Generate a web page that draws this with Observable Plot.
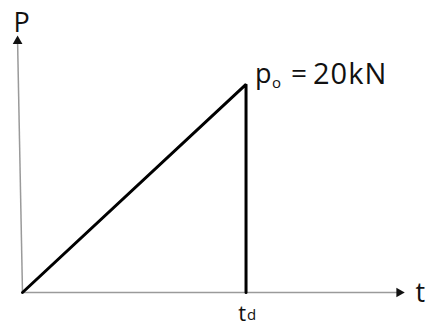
<!DOCTYPE html>
<html>
<head>
<meta charset="utf-8">
<script src="https://cdn.jsdelivr.net/npm/d3@7"></script>
<script src="https://cdn.jsdelivr.net/npm/@observablehq/plot@0.6"></script>
<style>
  html, body { margin: 0; padding: 0; background: #fff; }
  svg { display: block; }
</style>
</head>
<body>
<div id="chart"></div>
<script>
// Load pulse: time in units of t_d, load in kN
const tValues = [0, 1, 1];
const pValues = [0, 20, 0];
const peakEq = "=";
const peakValue = "20kN";
const tAxisLabel = "t";
const pAxisLabel = "P";
const tdLabel = "t";
const tdSub = "d";

const pulse = tValues.map((t, i) => ({t, p: pValues[i]}));
const tMax = 1.7;   // end of time axis
const pMax = 24.4;  // end of load axis
const font = "'Open Sans', 'Noto Sans CJK KR', sans-serif";

const chart = Plot.plot({
  width: 427,
  height: 327,
  margin: 0,
  style: {fontFamily: font, background: "white"},
  x: {domain: [0, tMax], range: [22, 402], axis: null},
  y: {domain: [0, pMax], range: [292, 38], axis: null},
  marks: [
    // axes
    Plot.link([{x1: 0, y1: 0, x2: tMax - 0.02, y2: 0}], {x1: "x1", y1: "y1", x2: "x2", y2: "y2", stroke: "#9a9a9a", strokeWidth: 1.5}),
    Plot.link([{x1: 0, y1: 0, x2: -0.022, y2: pMax - 0.3}], {x1: "x1", y1: "y1", x2: "x2", y2: "y2", stroke: "#9a9a9a", strokeWidth: 1.5}),
    Plot.dot([{x: tMax - 0.015, y: 0}], {x: "x", y: "y", symbol: "triangle", r: 3.6, fill: "#111", stroke: "none", rotate: 90}),
    Plot.dot([{x: -0.022, y: pMax - 0.25}], {x: "x", y: "y", symbol: "triangle", r: 3.6, fill: "#111", stroke: "none"}),
    // load pulse
    Plot.line(pulse, {x: "t", y: "p", stroke: "black", strokeWidth: 3, strokeLinejoin: "miter"}),
    // axis labels
    Plot.text([pAxisLabel], {x: () => -0.022, y: () => pMax, text: d => d, textAnchor: "start", dx: -4, dy: -15, fontSize: 27, fill: "#111"}),
    Plot.text([tAxisLabel], {x: () => tMax, y: () => 0, text: d => d, textAnchor: "start", dx: 13, dy: 1, fontSize: 27, fill: "#111"}),
    // peak label p_o = 20kN
    Plot.text(["p"], {x: () => 1, y: () => 20, text: d => d, textAnchor: "start", dx: 9, dy: -10, fontSize: 27, fill: "#111"}),
    Plot.text(["o"], {x: () => 1, y: () => 20, text: d => d, textAnchor: "start", dx: 26, dy: -1, fontSize: 15, fill: "#111"}),
    Plot.text([peakEq], {x: () => 1, y: () => 20, text: d => d, textAnchor: "start", dx: 45, dy: -10, fontSize: 28, fill: "#111"}),
    Plot.text([peakValue], {x: () => 1, y: () => 20, text: d => d, textAnchor: "start", dx: 67, dy: -10, fontSize: 29, fill: "#111"}),
    // t_d label
    Plot.text([tdLabel], {x: () => 1, y: () => 0, text: d => d, textAnchor: "end", dx: 0, dy: 21, fontSize: 22, fill: "#111"}),
    Plot.text([tdSub], {x: () => 1, y: () => 0, text: d => d, textAnchor: "start", dx: 1, dy: 23, fontSize: 15, fill: "#111"})
  ]
});
d3.select(chart).selectAll("text").filter(function() { return this.textContent === peakValue; }).style("letter-spacing", "1px");
document.getElementById("chart").appendChild(chart);
</script>
</body>
</html>
